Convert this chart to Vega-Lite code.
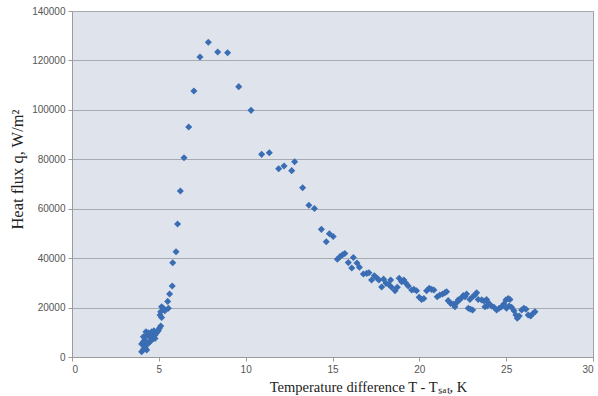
{
  "$schema": "https://vega.github.io/schema/vega-lite/v6.json",
  "width": 521,
  "height": 346,
  "autosize": {"type": "none"},
  "padding": {"left": 72, "top": 11, "right": 5, "bottom": 39},
  "background": "#ffffff",
  "config": {
    "view": {"fill": "#dfe4ec", "stroke": "#a0a4aa", "strokeWidth": 1},
    "axis": {
      "labelFont": "Liberation Sans",
      "labelFontSize": 10,
      "labelColor": "#555555",
      "titleFont": "Liberation Serif",
      "titleFontWeight": "normal",
      "titleColor": "#222222",
      "domainColor": "#9a9a9a",
      "tickColor": "#9a9a9a",
      "tickSize": 4,
      "labelPadding": 3
    }
  },
  "data": {
    "values": [
      {"dt": 4.01, "q": 2150}, {"dt": 4.11, "q": 3100}, {"dt": 4.20, "q": 4150}, {"dt": 4.30, "q": 2800},
      {"dt": 4.22, "q": 3500}, {"dt": 4.15, "q": 4450}, {"dt": 4.07, "q": 5500}, {"dt": 4.01, "q": 5250},
      {"dt": 4.11, "q": 6200}, {"dt": 4.20, "q": 6900}, {"dt": 4.11, "q": 8200}, {"dt": 4.26, "q": 10250},
      {"dt": 4.30, "q": 8900}, {"dt": 4.39, "q": 9800}, {"dt": 4.45, "q": 8200}, {"dt": 4.39, "q": 5500},
      {"dt": 4.49, "q": 6200}, {"dt": 4.59, "q": 6900}, {"dt": 4.68, "q": 8200}, {"dt": 4.78, "q": 7500},
      {"dt": 4.49, "q": 8500}, {"dt": 4.59, "q": 10250}, {"dt": 4.68, "q": 9600}, {"dt": 4.72, "q": 10650},
      {"dt": 4.78, "q": 8900}, {"dt": 4.88, "q": 9800}, {"dt": 4.97, "q": 10600}, {"dt": 5.03, "q": 11600},
      {"dt": 5.11, "q": 12500}, {"dt": 5.07, "q": 17000}, {"dt": 5.16, "q": 16000}, {"dt": 5.11, "q": 18300},
      {"dt": 5.16, "q": 20350}, {"dt": 5.26, "q": 19700}, {"dt": 5.35, "q": 18700}, {"dt": 5.55, "q": 19700},
      {"dt": 5.51, "q": 22500}, {"dt": 5.62, "q": 25500}, {"dt": 5.77, "q": 28700}, {"dt": 5.80, "q": 38150},
      {"dt": 5.99, "q": 42600}, {"dt": 6.08, "q": 53800}, {"dt": 6.24, "q": 67160}, {"dt": 6.45, "q": 80650},
      {"dt": 6.72, "q": 93050}, {"dt": 7.02, "q": 107600}, {"dt": 7.37, "q": 121380}, {"dt": 7.85, "q": 127330},
      {"dt": 8.39, "q": 123400}, {"dt": 8.96, "q": 123100}, {"dt": 9.60, "q": 109400}, {"dt": 10.31, "q": 99800},
      {"dt": 10.92, "q": 82000}, {"dt": 11.36, "q": 82660}, {"dt": 11.90, "q": 76200}, {"dt": 12.21, "q": 77300},
      {"dt": 12.65, "q": 75400}, {"dt": 12.82, "q": 79000}, {"dt": 13.28, "q": 68500}, {"dt": 13.64, "q": 61400},
      {"dt": 13.96, "q": 60100}, {"dt": 14.36, "q": 51650}, {"dt": 14.64, "q": 46600}, {"dt": 14.82, "q": 49850},
      {"dt": 15.04, "q": 48750}, {"dt": 15.28, "q": 39550}, {"dt": 15.43, "q": 40600}, {"dt": 15.58, "q": 41350},
      {"dt": 15.71, "q": 41900}, {"dt": 15.91, "q": 38200}, {"dt": 16.20, "q": 40250}, {"dt": 16.11, "q": 36000},
      {"dt": 16.41, "q": 38000}, {"dt": 16.55, "q": 36300}, {"dt": 16.78, "q": 33600}, {"dt": 16.97, "q": 33850},
      {"dt": 17.10, "q": 34100}, {"dt": 17.25, "q": 31150}, {"dt": 17.41, "q": 32850}, {"dt": 17.56, "q": 32000},
      {"dt": 17.67, "q": 31150}, {"dt": 17.83, "q": 28300}, {"dt": 17.94, "q": 31500}, {"dt": 18.08, "q": 29800},
      {"dt": 18.24, "q": 29300}, {"dt": 18.35, "q": 31150}, {"dt": 18.40, "q": 28200}, {"dt": 18.60, "q": 26800},
      {"dt": 18.73, "q": 28200}, {"dt": 18.84, "q": 31850}, {"dt": 18.98, "q": 30470}, {"dt": 19.11, "q": 31150},
      {"dt": 19.23, "q": 29800}, {"dt": 19.36, "q": 28700}, {"dt": 19.56, "q": 27100}, {"dt": 19.69, "q": 27350},
      {"dt": 19.84, "q": 26800}, {"dt": 19.99, "q": 24150}, {"dt": 20.13, "q": 23300}, {"dt": 20.26, "q": 23700},
      {"dt": 20.42, "q": 26800}, {"dt": 20.57, "q": 27800}, {"dt": 20.71, "q": 27350}, {"dt": 20.84, "q": 27100},
      {"dt": 21.03, "q": 24400}, {"dt": 21.18, "q": 25100}, {"dt": 21.34, "q": 25500}, {"dt": 21.47, "q": 26000},
      {"dt": 21.57, "q": 26400}, {"dt": 21.66, "q": 22800}, {"dt": 21.80, "q": 21700}, {"dt": 21.95, "q": 21450},
      {"dt": 22.05, "q": 20350}, {"dt": 22.15, "q": 22000}, {"dt": 22.24, "q": 23100}, {"dt": 22.34, "q": 23300},
      {"dt": 22.44, "q": 24100}, {"dt": 22.53, "q": 24900}, {"dt": 22.63, "q": 24400}, {"dt": 22.72, "q": 25500},
      {"dt": 22.82, "q": 19700}, {"dt": 22.95, "q": 19300}, {"dt": 23.07, "q": 19000}, {"dt": 22.91, "q": 23300},
      {"dt": 23.07, "q": 24400}, {"dt": 23.20, "q": 25100}, {"dt": 23.30, "q": 26000}, {"dt": 23.39, "q": 23300},
      {"dt": 23.59, "q": 23100}, {"dt": 23.72, "q": 22650}, {"dt": 23.87, "q": 23300}, {"dt": 23.97, "q": 22000},
      {"dt": 23.78, "q": 20350}, {"dt": 23.91, "q": 20600}, {"dt": 24.16, "q": 20600}, {"dt": 24.30, "q": 20100},
      {"dt": 24.45, "q": 19000}, {"dt": 24.60, "q": 19700}, {"dt": 24.74, "q": 20350}, {"dt": 24.87, "q": 21450},
      {"dt": 24.99, "q": 23100}, {"dt": 25.12, "q": 23700}, {"dt": 25.22, "q": 23300}, {"dt": 25.02, "q": 19700},
      {"dt": 25.17, "q": 20600}, {"dt": 25.31, "q": 20100}, {"dt": 25.45, "q": 18700}, {"dt": 25.56, "q": 17000},
      {"dt": 25.64, "q": 15650}, {"dt": 25.75, "q": 16600}, {"dt": 25.89, "q": 19000}, {"dt": 26.02, "q": 19700},
      {"dt": 26.14, "q": 19300}, {"dt": 26.27, "q": 17000}, {"dt": 26.41, "q": 16600}, {"dt": 26.56, "q": 17700},
      {"dt": 26.66, "q": 18300}
    ]
  },
  "mark": {"type": "point", "shape": "diamond", "filled": true, "size": 50, "color": "#3a6db3", "opacity": 1},
  "encoding": {
    "x": {
      "field": "dt",
      "type": "quantitative",
      "scale": {"domain": [0, 30], "nice": false, "zero": true},
      "axis": {
        "values": [0, 5, 10, 15, 20, 25, 30],
        "grid": false,
        "title": "Temperature difference T - Tₛₐₜ, K",
        "titleFontSize": 14.5,
        "titleX": 296,
        "titleY": 30,
        "titleAnchor": null,
        "titleAlign": "center",
        "titleBaseline": "middle"
      }
    },
    "y": {
      "field": "q",
      "type": "quantitative",
      "scale": {"domain": [0, 140000], "nice": false},
      "axis": {
        "values": [0, 20000, 40000, 60000, 80000, 100000, 120000, 140000],
        "format": "d",
        "grid": true,
        "gridColor": "#a7abb1",
        "gridWidth": 1,
        "title": "Heat flux q, W/m²",
        "titleFontSize": 16.5,
        "titleX": -55,
        "titleY": 158,
        "titleAngle": -90,
        "titleAlign": "center",
        "titleBaseline": "middle"
      }
    }
  }
}
